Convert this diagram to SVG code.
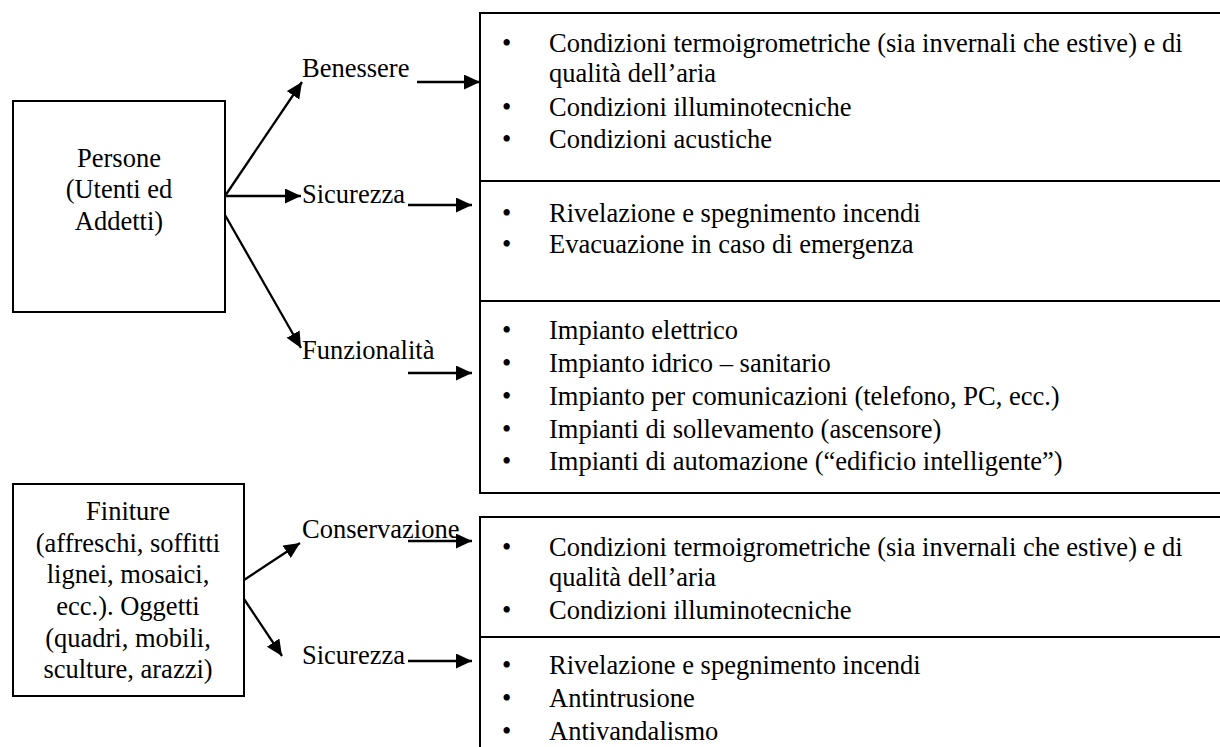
<svg xmlns="http://www.w3.org/2000/svg" width="1220" height="747" viewBox="0 0 1220 747">
<style>
text{font-family:"Liberation Serif","Times New Roman",serif;font-size:26.5px;fill:#000}
.c{text-anchor:middle}
.box{fill:#fff;stroke:#000;stroke-width:2}
.ln{stroke:#000;stroke-width:2.3;fill:none;marker-end:url(#ah)}
</style>
<defs>
<marker id="ah" markerUnits="userSpaceOnUse" markerWidth="17" markerHeight="16" refX="16" refY="7.5" orient="auto">
<path d="M0,0 L16,7.5 L0,15 Z" fill="#000"/>
</marker>
</defs>
<g id="persone">
<rect class="box" x="13" y="101" width="212" height="211"/>
<text class="c" x="119" y="167">Persone</text>
<text class="c" x="119" y="198">(Utenti ed</text>
<text class="c" x="119" y="230">Addetti)</text>
</g>
<g id="finiture">
<rect class="box" x="13" y="484" width="231" height="212"/>
<text class="c" x="128" y="520">Finiture</text>
<text class="c" x="128" y="552">(affreschi, soffitti</text>
<text class="c" x="128" y="583">lignei, mosaici,</text>
<text class="c" x="128" y="615">ecc.). Oggetti</text>
<text class="c" x="128" y="647">(quadri, mobili,</text>
<text class="c" x="128" y="678">sculture, arazzi)</text>
</g>
<g id="labels">
<text x="302" y="77">Benessere</text>
<text x="302" y="203">Sicurezza</text>
<text x="302" y="359">Funzionalità</text>
<text x="302" y="538">Conservazione</text>
<text x="302" y="664">Sicurezza</text>
</g>
<g id="box-benessere">
<rect class="box" x="480" y="13" width="760" height="168"/>
<text x="502" y="52">•</text><text x="549" y="52">Condizioni termoigrometriche (sia invernali che estive) e di</text>
<text x="549" y="82">qualità dell’aria</text>
<text x="502" y="116">•</text><text x="549" y="116">Condizioni illuminotecniche</text>
<text x="502" y="148">•</text><text x="549" y="148">Condizioni acustiche</text>
</g>
<g id="box-sicurezza">
<rect class="box" x="480" y="181" width="760" height="120"/>
<text x="502" y="222">•</text><text x="549" y="222">Rivelazione e spegnimento incendi</text>
<text x="502" y="253">•</text><text x="549" y="253">Evacuazione in caso di emergenza</text>
</g>
<g id="box-funzionalita">
<rect class="box" x="480" y="301" width="760" height="192"/>
<text x="502" y="339">•</text><text x="549" y="339">Impianto elettrico</text>
<text x="502" y="372">•</text><text x="549" y="372">Impianto idrico – sanitario</text>
<text x="502" y="405">•</text><text x="549" y="405">Impianto per comunicazioni (telefono, PC, ecc.)</text>
<text x="502" y="438">•</text><text x="549" y="438">Impianti di sollevamento (ascensore)</text>
<text x="502" y="470">•</text><text x="549" y="470">Impianti di automazione (“edificio intelligente”)</text>
</g>
<g id="box-conservazione">
<rect class="box" x="480" y="517" width="760" height="120"/>
<text x="502" y="556">•</text><text x="549" y="556">Condizioni termoigrometriche (sia invernali che estive) e di</text>
<text x="549" y="586">qualità dell’aria</text>
<text x="502" y="619">•</text><text x="549" y="619">Condizioni illuminotecniche</text>
</g>
<g id="box-sicurezza2">
<rect class="box" x="480" y="637" width="760" height="130"/>
<text x="502" y="674">•</text><text x="549" y="674">Rivelazione e spegnimento incendi</text>
<text x="502" y="707">•</text><text x="549" y="707">Antintrusione</text>
<text x="502" y="740">•</text><text x="549" y="740">Antivandalismo</text>
</g>
<g id="connectors">
<line class="ln" x1="225" y1="196" x2="302" y2="82"/>
<line class="ln" x1="225" y1="196" x2="301" y2="196"/>
<line class="ln" x1="225" y1="215" x2="301" y2="348"/>
<line class="ln" x1="417" y1="82" x2="480" y2="82"/>
<line class="ln" x1="408" y1="205" x2="472" y2="205"/>
<line class="ln" x1="408" y1="373" x2="472" y2="373"/>
<line class="ln" x1="244" y1="580" x2="300" y2="543"/>
<line class="ln" x1="244" y1="599" x2="282" y2="656"/>
<line class="ln" x1="408" y1="541" x2="472" y2="541"/>
<line class="ln" x1="408" y1="661" x2="472" y2="661"/>
</g>
</svg>
